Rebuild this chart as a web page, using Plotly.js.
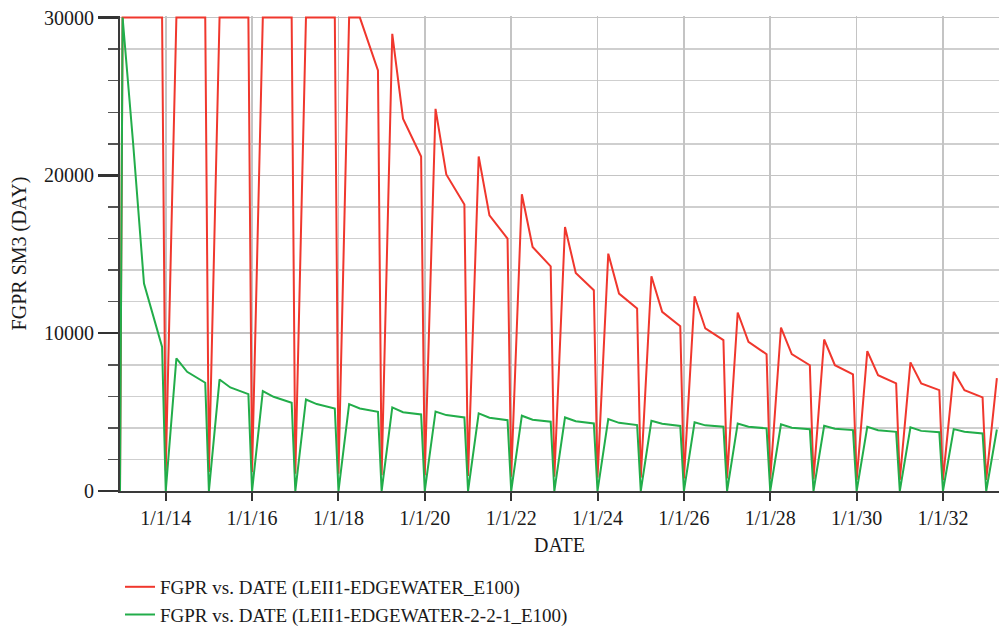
<!DOCTYPE html>
<html>
<head>
<meta charset="utf-8">
<script src="https://cdn.plot.ly/plotly-3.0.1.min.js"></script>
<style>
  html, body { margin: 0; padding: 0; background: #ffffff; }
  #chart { width: 999px; height: 631px; }
</style>
</head>
<body>
<div id="chart"></div>
<script>
// Report dates (shared by both series)
const dates = [
  "2012-12-10",
  "2013-01-01","2013-04-01","2013-07-01","2013-12-01",
  "2014-01-01","2014-04-01","2014-07-01","2014-12-01",
  "2015-01-01","2015-04-01","2015-07-01","2015-12-01",
  "2016-01-01","2016-04-01","2016-07-01","2016-12-01",
  "2017-01-01","2017-04-01","2017-07-01","2017-12-01",
  "2018-01-01","2018-04-01","2018-07-01","2018-12-01",
  "2019-01-01","2019-04-01","2019-07-01","2019-12-01",
  "2020-01-01","2020-04-01","2020-07-01","2020-12-01",
  "2021-01-01","2021-04-01","2021-07-01","2021-12-01",
  "2022-01-01","2022-04-01","2022-07-01","2022-12-01",
  "2023-01-01","2023-04-01","2023-07-01","2023-12-01",
  "2024-01-01","2024-04-01","2024-07-01","2024-12-01",
  "2025-01-01","2025-04-01","2025-07-01","2025-12-01",
  "2026-01-01","2026-04-01","2026-07-01","2026-12-01",
  "2027-01-01","2027-04-01","2027-07-01","2027-12-01",
  "2028-01-01","2028-04-01","2028-07-01","2028-12-01",
  "2029-01-01","2029-04-01","2029-07-01","2029-12-01",
  "2030-01-01","2030-04-01","2030-07-01","2030-12-01",
  "2031-01-01","2031-04-01","2031-07-01","2031-12-01",
  "2032-01-01","2032-04-01","2032-07-01","2032-12-01",
  "2033-01-01","2033-04-01"
];

// FGPR (LEII1-EDGEWATER_E100), SM3/DAY (values at the top are capped at the axis maximum)
const fgprEdgewater = [
  0,
  30000,30000,30000,30000,
  1300,30000,30000,30000,
  1200,30000,30000,30000,
  1200,30000,30000,30000,
  1100,30000,30000,30000,
  1100,30000,30000,26650,
  1000,28970,23590,21200,
  1000,24220,20060,18160,
  950,21200,17470,15990,
  900,18800,15460,14240,
  900,16730,13820,12720,
  850,15040,12510,11560,
  850,13610,11350,10440,
  800,12340,10300,9560,
  800,11310,9450,8670,
  750,10360,8670,7970,
  750,9600,7970,7390,
  700,8860,7340,6820,
  700,8150,6820,6390,
  700,7550,6390,5930,
  700,7150
];

// FGPR (LEII1-EDGEWATER-2-2-1_E100), SM3/DAY
const fgprEdgewater221 = [
  0,
  30000,21940,13140,9130,
  0,8400,7550,6860,
  0,7070,6560,6140,
  0,6330,5970,5590,
  0,5800,5510,5230,
  0,5510,5230,5020,
  0,5300,4990,4850,
  0,5040,4810,4660,
  0,4920,4640,4490,
  0,4770,4520,4390,
  0,4660,4420,4280,
  0,4560,4320,4180,
  0,4450,4260,4120,
  0,4350,4160,4070,
  0,4280,4070,3970,
  0,4220,4010,3920,
  0,4130,3950,3860,
  0,4070,3850,3750,
  0,4030,3810,3720,
  0,3920,3760,3650,
  0,3900
];

const seriesNames = [
  "FGPR vs. DATE (LEII1-EDGEWATER_E100)",
  "FGPR vs. DATE (LEII1-EDGEWATER-2-2-1_E100)"
];

const xTickVals = ["2014-01-01","2016-01-01","2018-01-01","2020-01-01","2022-01-01",
                   "2024-01-01","2026-01-01","2028-01-01","2030-01-01","2032-01-01"];
const xTickText = ["1/1/14","1/1/16","1/1/18","1/1/20","1/1/22",
                   "1/1/24","1/1/26","1/1/28","1/1/30","1/1/32"];
const yTickVals = [0, 10000, 20000, 30000];
const yTickText = ["0", "10000", "20000", "30000"];

const FONT = "'Liberation Serif', 'Times New Roman', serif";

const traces = [
  {
    x: dates, y: fgprEdgewater, name: seriesNames[0],
    type: "scatter", mode: "lines",
    line: { color: "#f0372d", width: 2 }
  },
  {
    x: dates, y: fgprEdgewater221, name: seriesNames[1],
    type: "scatter", mode: "lines",
    line: { color: "#22ad4a", width: 2 }
  }
];

const layout = {
  width: 999, height: 631,
  margin: { l: 120, r: 0, t: 16, b: 140, pad: 0, autoexpand: false },
  paper_bgcolor: "#ffffff",
  plot_bgcolor: "#ffffff",
  font: { family: FONT, size: 20, color: "#1a1a1a" },
  showlegend: true,
  legend: {
    x: 0.0, xanchor: "left",
    y: -0.162, yanchor: "top",
    orientation: "v",
    font: { family: FONT, size: 19, color: "#1a1a1a" },
    bgcolor: "rgba(0,0,0,0)",
    borderwidth: 0
  },
  xaxis: {
    type: "date",
    range: ["2012-12-10", "2033-04-19"],
    tickmode: "array",
    tickvals: xTickVals,
    ticktext: xTickText,
    ticks: "outside", ticklen: 8, tickwidth: 2, tickcolor: "#333333",
    showline: true, linecolor: "#3a3a3a", linewidth: 2,
    showgrid: true, gridcolor: "#c4c4c4", gridwidth: 1.5,
    zeroline: false,
    tickfont: { family: FONT, size: 20, color: "#1a1a1a" },
    title: { text: "DATE", font: { family: FONT, size: 20, color: "#1a1a1a" }, standoff: 10 }
  },
  yaxis: {
    range: [0, 30100],
    tickmode: "array",
    tickvals: yTickVals,
    ticktext: yTickText,
    ticks: "outside", ticklen: 20, tickwidth: 2.5, tickcolor: "#333333",
    showline: true, linecolor: "#3a3a3a", linewidth: 2,
    showgrid: true, gridcolor: "#c4c4c4", gridwidth: 1.5,
    zeroline: false,
    minor: {
      tick0: 0, dtick: 2000,
      ticks: "outside", ticklen: 10, tickwidth: 1.5, tickcolor: "#555555",
      showgrid: true, gridcolor: "#cfcfcf", gridwidth: 1.5
    },
    tickfont: { family: FONT, size: 20, color: "#1a1a1a" },
    title: { text: "FGPR SM3 (DAY)", font: { family: FONT, size: 20, color: "#1a1a1a" }, standoff: 12 }
  }
};

Plotly.newPlot("chart", traces, layout, { displayModeBar: false, staticPlot: true });
</script>
</body>
</html>
